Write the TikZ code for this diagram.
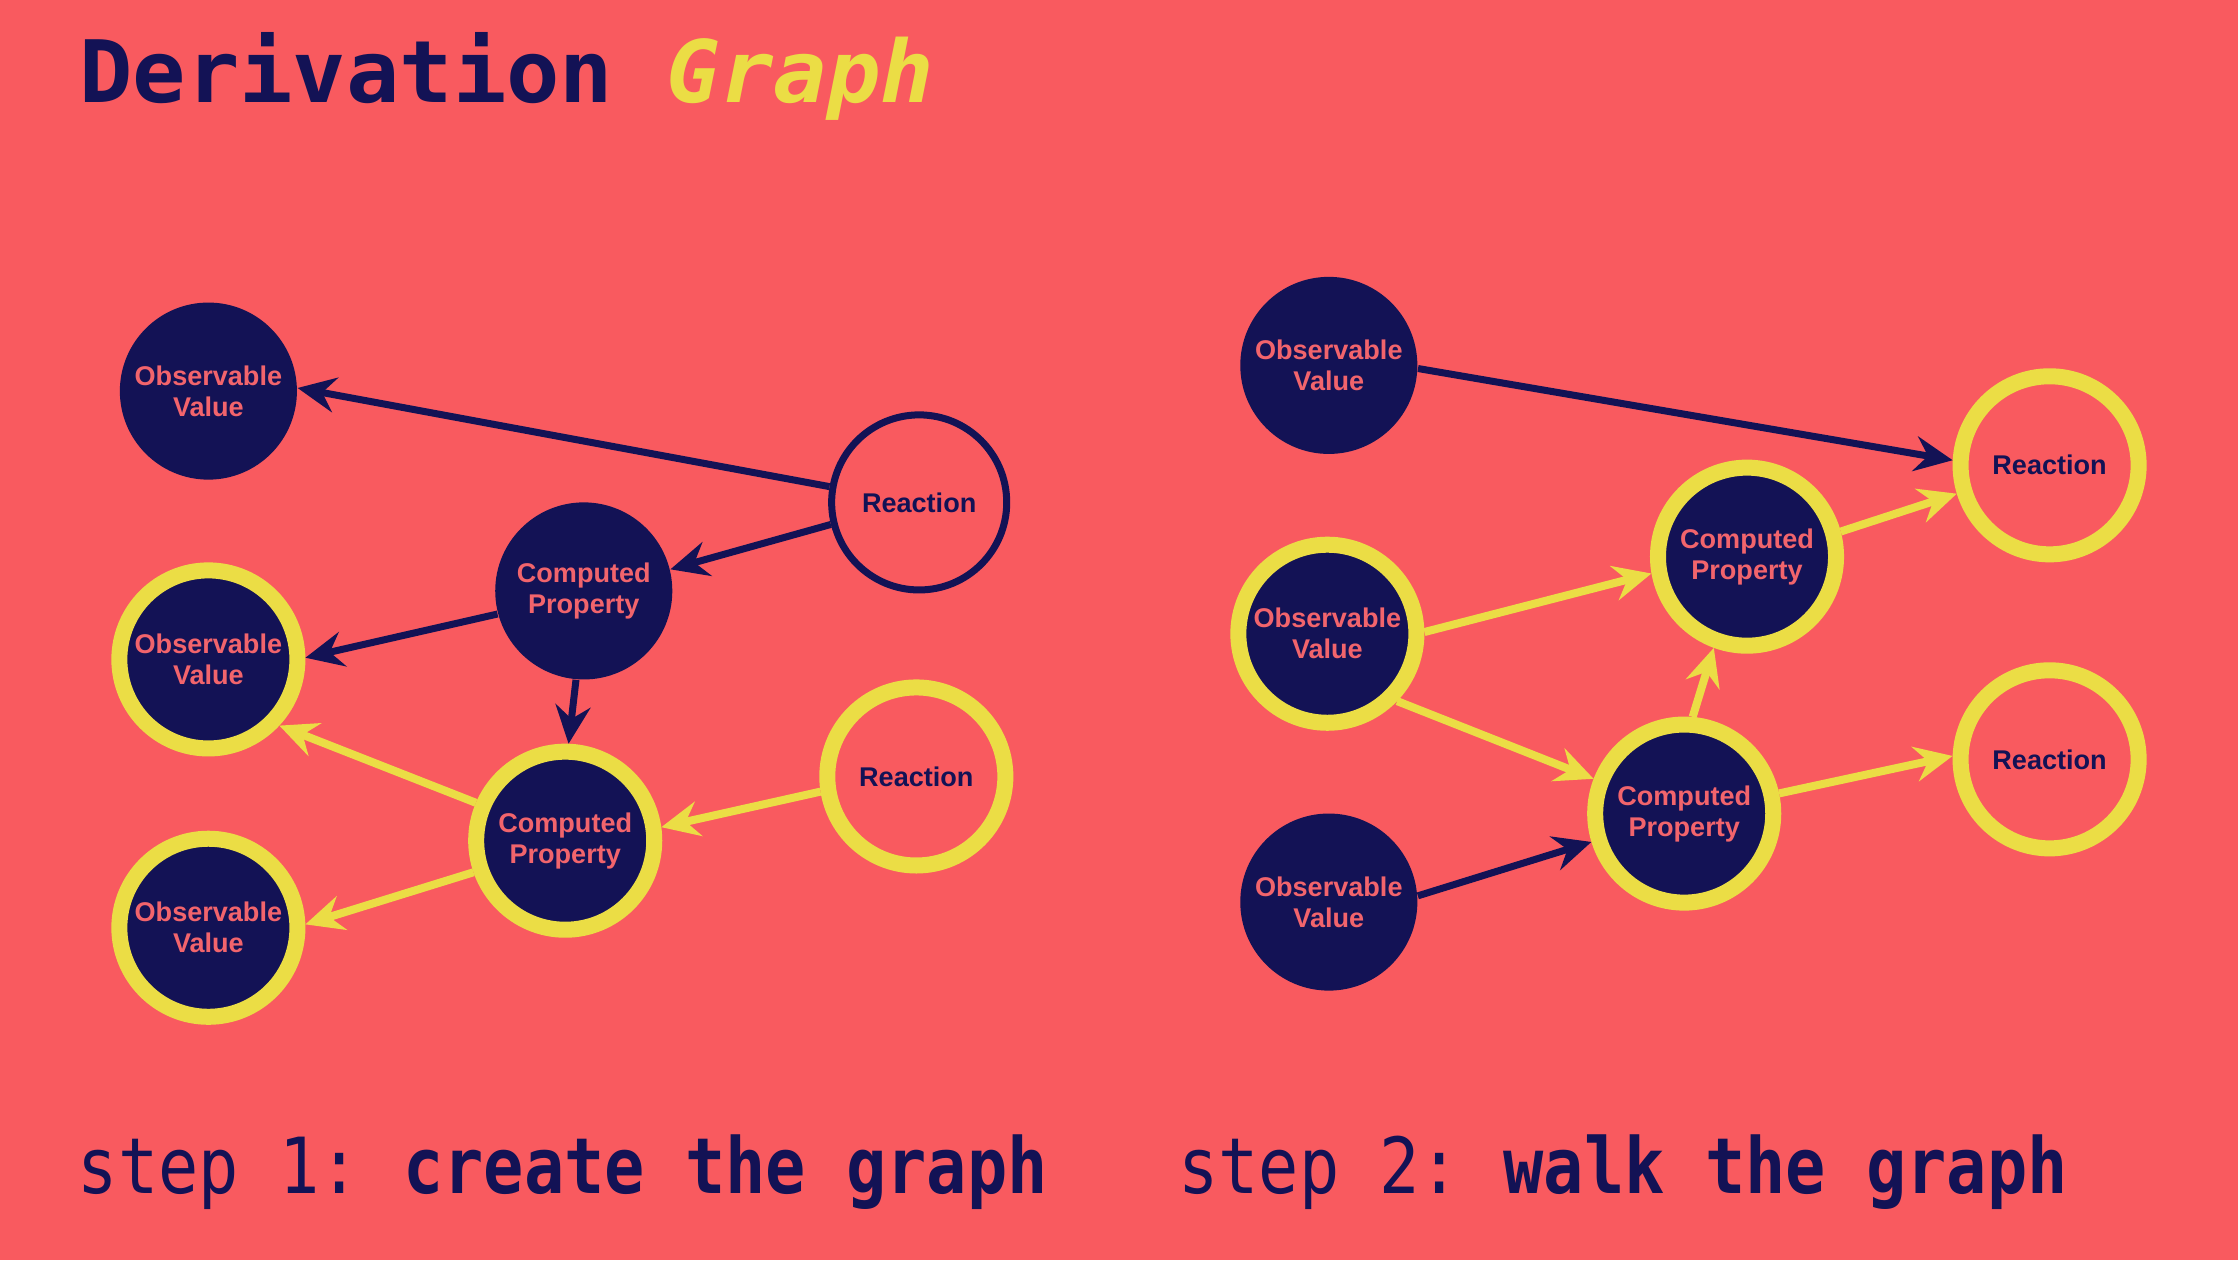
\documentclass[tikz,border=0pt]{standalone}
\usepackage{fontspec}
\setmainfont{Liberation Sans}
\newfontfamily\monofont{DejaVu Sans Mono}
\usetikzlibrary{arrows.meta}

\definecolor{bgred}{HTML}{F95A5F}
\definecolor{navy}{HTML}{131255}
\definecolor{ringyellow}{HTML}{EBDD45}
\definecolor{labelpink}{HTML}{F2646C}

\tikzset{
  label font/.style={font=\bfseries\fontsize{7.7}{8.8}\selectfont, align=center, inner sep=0pt},
  solidnode/.style={label font, circle, fill=navy, minimum size=1.77cm, text=labelpink},
  ringnode/.style={label font, circle, draw=ringyellow, line width=0.16cm, fill=navy, minimum size=1.78cm, text=labelpink},
  reactnavy/.style={label font, circle, draw=navy, line width=0.07cm, minimum size=1.75cm, text=navy},
  reactyellow/.style={label font, circle, draw=ringyellow, line width=0.16cm, minimum size=1.78cm, text=navy},
  tip/.style={-{Stealth[length=0.38cm, width=0.35cm, inset=0.13cm]}},
  navyedge/.style={tip, draw=navy, line width=0.07cm},
  yellowedge/.style={tip, draw=ringyellow, line width=0.08cm},
  caption/.style={anchor=base west, inner sep=0pt, text=navy},
}

\begin{document}
\begin{tikzpicture}[x=0.014273cm, y=-0.014273cm]
  % canvas
  \fill[bgred] (0,0) rectangle (1568,883);
  \useasboundingbox (0,0) rectangle (1568,883);

  % heading
  \node[caption, font=\monofont\bfseries\fontsize{24.5}{28}\selectfont] (title) at (55,72)
    {\scalebox{1.03}[1]{Derivation \textcolor{ringyellow}{\itshape Graph}}};

  % ---------- step 1: create the graph ----------
  \node[solidnode]   (ova) at (146,274) {Observable\\Value};
  \node[reactnavy]   (ra)  at (644,352) {Reaction};
  \node[solidnode]   (cpa) at (409,414) {Computed\\Property};
  \node[ringnode]    (ovb) at (146,462) {Observable\\Value};
  \node[ringnode]    (cpb) at (396,589) {Computed\\Property};
  \node[reactyellow] (rb)  at (642,544) {Reaction};
  \node[ringnode]    (ovc) at (146,650) {Observable\\Value};

  \draw[navyedge]   (ra.170)  -- (ova.2);
  \draw[navyedge]   (ra.194)  -- (cpa.14);
  \draw[navyedge]   (cpa.195) -- (ovb.1);
  \draw[navyedge]   (cpa.265) -- (cpb.88);
  \draw[yellowedge] (cpb.157) -- (ovb.-43);
  \draw[yellowedge] (rb.189)  -- (cpb.8);
  \draw[yellowedge] (cpb.199) -- (ovc.2);

  % ---------- step 2: walk the graph ----------
  \node[solidnode]   (ovd) at (931,256)  {Observable\\Value};
  \node[reactyellow] (rc)  at (1436,326) {Reaction};
  \node[ringnode]    (cpc) at (1224,390) {Computed\\Property};
  \node[ringnode]    (ove) at (930,444)  {Observable\\Value};
  \node[ringnode]    (cpd) at (1180,570) {Computed\\Property};
  \node[reactyellow] (rd)  at (1436,532) {Reaction};
  \node[solidnode]   (ovf) at (931,632)  {Observable\\Value};

  \draw[navyedge]   (ovd.-2)  -- (rc.177);
  \draw[yellowedge] (cpc.15)  -- (rc.197);
  \draw[yellowedge] (ove.1)   -- (cpc.190);
  \draw[yellowedge] (ove.-44) -- (cpd.159);
  \draw[yellowedge] (cpd.85)  -- (cpc.250);
  \draw[yellowedge] (cpd.12)  -- (rd.178);
  \draw[navyedge]   (ovf.4)   -- (cpd.197);

  % captions
  \node[caption, font=\monofont\fontsize{22}{26}\selectfont] (stepa) at (54,836)
    {\scalebox{0.865}[1]{step 1:\hspace{0.65em}\textbf{create the graph}}};
  \node[caption, font=\monofont\fontsize{22}{26}\selectfont] (stepb) at (825,836)
    {\scalebox{0.865}[1]{step 2:\hspace{0.65em}\textbf{walk the graph}}};
\end{tikzpicture}
\end{document}
